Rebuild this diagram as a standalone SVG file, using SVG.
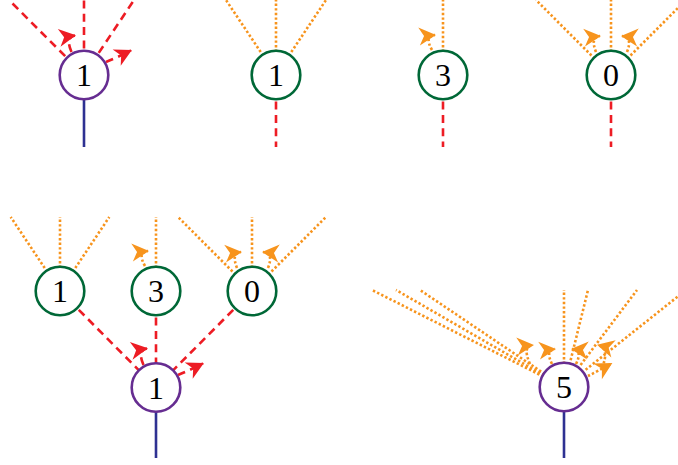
<svg xmlns="http://www.w3.org/2000/svg" width="678" height="465" viewBox="0 0 678 465">
<style>
.bg{fill:#ffffff}
.red{fill:none;stroke:#ed1c24;stroke-width:2.6;stroke-dasharray:8 5.3}
.org{fill:none;stroke:#f7941d;stroke-width:2.6;stroke-dasharray:2.4 2.2}
.stem{fill:none;stroke:#2e3192;stroke-width:2.6}
.ra{marker-end:url(#mr)}
.oa{marker-end:url(#mo)}
.pn{fill:#ffffff;stroke:#662d91;stroke-width:2.6}
.gn{fill:#ffffff;stroke:#006837;stroke-width:2.6}
.lbl{font-family:"Liberation Serif","DejaVu Serif",serif;font-size:32px;text-anchor:middle;fill:#000000}
</style>
<defs>
<marker id="mr" viewBox="-20 -11 22 22" refX="0" refY="0" markerWidth="22" markerHeight="22" markerUnits="userSpaceOnUse" orient="auto">
<path d="M1,0 L-16,-9 L-11,0 L-16,9 Z" fill="#ed1c24" stroke="none"/>
</marker>
<marker id="mo" viewBox="-20 -11 22 22" refX="0" refY="0" markerWidth="22" markerHeight="22" markerUnits="userSpaceOnUse" orient="auto">
<path d="M1,0 L-16,-9 L-11,0 L-16,9 Z" fill="#f7941d" stroke="none"/>
</marker>
</defs>
<rect class="bg" x="0" y="0" width="678" height="465"/>
<g id="connectors">
<line class="red" x1="84" y1="75" x2="9" y2="0"/>
<line class="red" x1="84" y1="75" x2="84" y2="0"/>
<line class="red" x1="84" y1="75" x2="134" y2="0"/>
<line class="stem" x1="84" y1="75" x2="84" y2="147"/>
<path class="red ra" d="M71.5,52 Q65,37 75,35.5"/>
<path class="red ra" d="M106,62 Q116,58 131,50.5"/>
<line class="org" x1="276" y1="75" x2="226" y2="0"/>
<line class="org" x1="276" y1="75" x2="276" y2="0"/>
<line class="org" x1="276" y1="75" x2="326" y2="0"/>
<line class="red" x1="276" y1="75" x2="276" y2="147"/>
<line class="org" x1="443" y1="75" x2="443" y2="0"/>
<line class="red" x1="443" y1="75" x2="443" y2="147"/>
<path class="org oa" d="M432,50 Q424,36 435,35"/>
<line class="org" x1="611" y1="75" x2="536" y2="0"/>
<line class="org" x1="611" y1="75" x2="611" y2="0"/>
<line class="org" x1="611" y1="75" x2="686" y2="0"/>
<line class="red" x1="611" y1="75" x2="611" y2="147"/>
<path class="org oa" d="M596,52 Q590,37 600,36"/>
<path class="org oa" d="M627,52 Q633,37 622,36"/>
<line class="org" x1="60" y1="291" x2="10.7" y2="217"/>
<line class="org" x1="60" y1="291" x2="60" y2="217"/>
<line class="org" x1="60" y1="291" x2="109.3" y2="217"/>
<line class="org" x1="156" y1="291" x2="156" y2="217"/>
<path class="org oa" d="M145,266 Q137,252 148,251"/>
<line class="org" x1="252" y1="291" x2="178" y2="217"/>
<line class="org" x1="252" y1="291" x2="252" y2="217"/>
<line class="org" x1="252" y1="291" x2="326" y2="217"/>
<path class="org oa" d="M237,268 Q231,253 241,252"/>
<path class="org oa" d="M268,268 Q274,253 263,252"/>
<line class="red" x1="60" y1="291" x2="156" y2="387.5"/>
<line class="red" x1="156" y1="291" x2="156" y2="387.5"/>
<line class="red" x1="252" y1="291" x2="156" y2="387.5"/>
<line class="stem" x1="156" y1="387.5" x2="156" y2="458"/>
<path class="red ra" d="M143.5,365 Q137,350 147,348.5"/>
<path class="red ra" d="M178,375 Q188,371 203,363.5"/>
<line class="org" x1="564" y1="387" x2="372" y2="290"/>
<line class="org" x1="564" y1="387" x2="396" y2="290"/>
<line class="org" x1="564" y1="387" x2="420" y2="290"/>
<line class="org" x1="564" y1="387" x2="564" y2="290"/>
<line class="org" x1="564" y1="387" x2="588" y2="290"/>
<line class="org" x1="564" y1="387" x2="637" y2="290"/>
<line class="org" x1="564" y1="387" x2="686" y2="290"/>
<line class="stem" x1="564" y1="387" x2="564" y2="458"/>
<path class="org oa" d="M530,364 Q522,346 533,345"/>
<path class="org oa" d="M552,364 Q545,350 555,349"/>
<path class="org oa" d="M576,364 Q583,350 572,349"/>
<path class="org oa" d="M602,368 Q610,348 598,345"/>
<path class="org oa" d="M588,376 Q598,371 611.5,363.5"/>
</g>
<g id="node-a"><circle class="pn" cx="84" cy="75" r="24.3"/><text class="lbl" x="84" y="86">1</text></g>
<g id="node-b"><circle class="gn" cx="276" cy="75" r="24.3"/><text class="lbl" x="276" y="86">1</text></g>
<g id="node-c"><circle class="gn" cx="443" cy="75" r="24.3"/><text class="lbl" x="443" y="86">3</text></g>
<g id="node-d"><circle class="gn" cx="611" cy="75" r="24.3"/><text class="lbl" x="611" y="86">0</text></g>
<g id="node-g1"><circle class="gn" cx="60" cy="291" r="24.3"/><text class="lbl" x="60" y="302">1</text></g>
<g id="node-g2"><circle class="gn" cx="156" cy="291" r="24.3"/><text class="lbl" x="156" y="302">3</text></g>
<g id="node-g3"><circle class="gn" cx="252" cy="291" r="24.3"/><text class="lbl" x="252" y="302">0</text></g>
<g id="node-p"><circle class="pn" cx="156" cy="387.5" r="24.3"/><text class="lbl" x="156" y="398.5">1</text></g>
<g id="node-5"><circle class="pn" cx="564" cy="387" r="24.3"/><text class="lbl" x="564" y="398">5</text></g>
</svg>
